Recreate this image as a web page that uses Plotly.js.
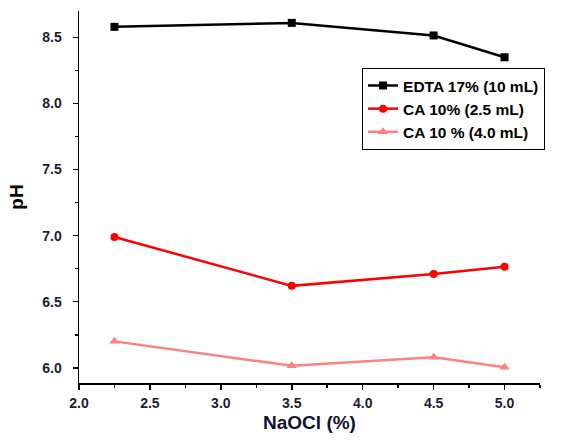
<!DOCTYPE html>
<html>
<head>
<meta charset="utf-8">
<script src="https://cdn.plot.ly/plotly-3.0.1.min.js"></script>
<style>html,body{margin:0;padding:0;background:#fff}#chart{width:579px;height:443px}</style>
</head>
<body>
<div id="chart"></div>
<script>
const naocl = [2.25, 3.5, 4.5, 5.0];
const edta17 = [8.58, 8.61, 8.515, 8.35];
const ca10_25 = [6.99, 6.62, 6.71, 6.765];
const ca10_40 = [6.20, 6.015, 6.08, 6.005];
const seriesNames = ["EDTA 17% (10 mL)", "CA 10% (2.5 mL)", "CA 10 % (4.0 mL)"];

const traces = [
  {x: naocl, y: edta17, name: seriesNames[0], mode: "lines+markers",
   line: {color: "#000000", width: 2.5}, marker: {symbol: "square", size: 8, color: "#000000"}},
  {x: naocl, y: ca10_25, name: seriesNames[1], mode: "lines+markers",
   line: {color: "#ff0000", width: 2.5}, marker: {symbol: "circle", size: 8, color: "#ff0000"}},
  {x: naocl, y: ca10_40, name: seriesNames[2], mode: "lines+markers",
   line: {color: "#ff8080", width: 2.5}, marker: {symbol: "triangle-up", size: 9, color: "#ff8080"}}
];

const tickFont = {family: "Arial, Liberation Sans, sans-serif", size: 14, color: "#1c1c33", weight: "bold"};
const layout = {
  width: 579, height: 443,
  margin: {l: 79, r: 39, t: 11, b: 60},
  paper_bgcolor: "#ffffff", plot_bgcolor: "#ffffff",
  showlegend: true,
  legend: {x: 0.614, y: 0.847, xanchor: "left", yanchor: "top",
    bordercolor: "#000000", borderwidth: 1, bgcolor: "#ffffff",
    font: {family: "Arial, Liberation Sans, sans-serif", size: 15.5, color: "#000000", weight: "bold"}},
  xaxis: {
    range: [2.0, 5.25], tick0: 2.0, dtick: 0.5, tickformat: ".1f",
    showgrid: false, zeroline: false, showline: true, linecolor: "#000000", linewidth: 1.5,
    ticks: "outside", ticklen: 5, tickwidth: 1.5, tickcolor: "#000000", ticklabelstandoff: 2,
    minor: {dtick: 0.25, ticks: "outside", ticklen: 3, tickwidth: 1.5, tickcolor: "#000000", showgrid: false},
    tickfont: tickFont,
    title: {text: "NaOCl (%)", standoff: 5,
      font: {family: "Arial, Liberation Sans, sans-serif", size: 19, color: "#111133", weight: "bold"}}
  },
  yaxis: {
    range: [5.885, 8.7], tick0: 6.0, dtick: 0.5, tickformat: ".1f",
    showgrid: false, zeroline: false, showline: true, linecolor: "#000000", linewidth: 1.5,
    ticks: "outside", ticklen: 5, tickwidth: 1.5, tickcolor: "#000000", ticklabelstandoff: 8,
    minor: {dtick: 0.25, ticks: "outside", ticklen: 3, tickwidth: 1.5, tickcolor: "#000000", showgrid: false},
    tickfont: tickFont,
    title: {text: "pH", standoff: 13,
      font: {family: "Arial, Liberation Sans, sans-serif", size: 19, color: "#000000", weight: "bold"}}
  }
};

Plotly.newPlot("chart", traces, layout, {displayModeBar: false, staticPlot: true});
</script>
</body>
</html>
